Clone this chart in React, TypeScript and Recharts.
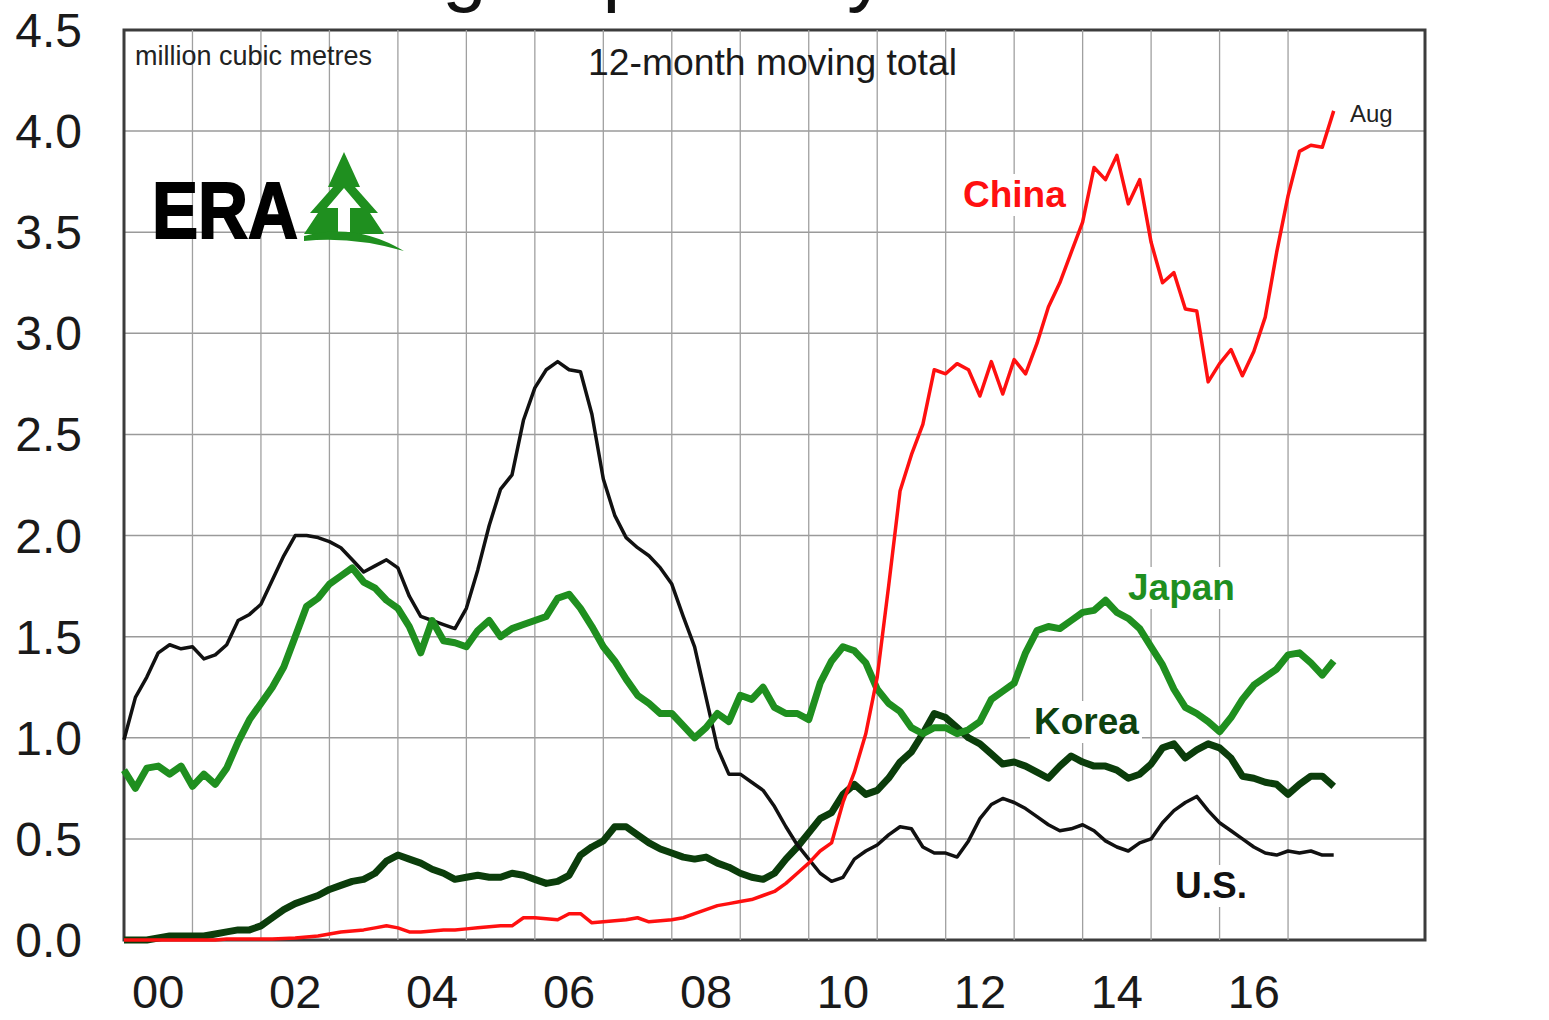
import React from 'react';
import { LineChart, Line, XAxis, YAxis, CartesianGrid, ReferenceLine, ReferenceArea } from 'recharts';

const FONT = '"Liberation Sans", Arial, Helvetica, sans-serif';

// months since Jan 2000, every second month up to Aug 2017
const months = Array.from({ length: 107 }, (_, i) => i * 2);

// 12-month moving totals, million cubic metres
const china = [
  0, 0, 0, 0, 0, 0, 0, 0, 0, 0.005,
  0.005, 0.005, 0.005, 0.005, 0.008, 0.01, 0.015, 0.02, 0.03, 0.04,
  0.045, 0.05, 0.06, 0.07, 0.06, 0.04, 0.04, 0.045, 0.05, 0.05,
  0.055, 0.06, 0.065, 0.07, 0.07, 0.11, 0.11, 0.105, 0.1, 0.13,
  0.13, 0.085, 0.09, 0.095, 0.1, 0.11, 0.09, 0.095, 0.1, 0.11,
  0.13, 0.15, 0.17, 0.18, 0.19, 0.2, 0.22, 0.24, 0.28, 0.33,
  0.38, 0.44, 0.48, 0.68, 0.83, 1.02, 1.3, 1.75, 2.22, 2.4,
  2.55, 2.82, 2.8, 2.85, 2.82, 2.69, 2.86, 2.7, 2.87, 2.8,
  2.95, 3.13, 3.25, 3.4, 3.55, 3.82, 3.76, 3.88, 3.64, 3.76,
  3.45, 3.25, 3.3, 3.12, 3.11, 2.76, 2.85, 2.92, 2.79, 2.91,
  3.08, 3.4, 3.68, 3.9, 3.93, 3.92, 4.1,
];

const japan = [
  0.84, 0.75, 0.85, 0.86, 0.82, 0.86, 0.76, 0.82, 0.77, 0.85,
  0.98, 1.09, 1.17, 1.25, 1.35, 1.5, 1.65, 1.69, 1.76, 1.8,
  1.84, 1.77, 1.74, 1.68, 1.64, 1.55, 1.42, 1.58, 1.48, 1.47,
  1.45, 1.53, 1.58, 1.5, 1.54, 1.56, 1.58, 1.6, 1.69, 1.71,
  1.64, 1.55, 1.45, 1.38, 1.29, 1.21, 1.17, 1.12, 1.12, 1.06,
  1.0, 1.05, 1.12, 1.08, 1.21, 1.19, 1.25, 1.15, 1.12, 1.12,
  1.09, 1.27, 1.38, 1.45, 1.43, 1.37, 1.24, 1.17, 1.13, 1.05,
  1.02, 1.05, 1.05, 1.02, 1.04, 1.08, 1.19, 1.23, 1.27, 1.42,
  1.53, 1.55, 1.54, 1.58, 1.62, 1.63, 1.68, 1.62, 1.59, 1.54,
  1.45, 1.36, 1.24, 1.15, 1.12, 1.08, 1.03, 1.1, 1.19, 1.26,
  1.3, 1.34, 1.41, 1.42, 1.37, 1.31, 1.38,
];

const korea = [
  0, 0, 0, 0.01, 0.02, 0.02, 0.02, 0.02, 0.03, 0.04,
  0.05, 0.05, 0.07, 0.11, 0.15, 0.18, 0.2, 0.22, 0.25, 0.27,
  0.29, 0.3, 0.33, 0.39, 0.42, 0.4, 0.38, 0.35, 0.33, 0.3,
  0.31, 0.32, 0.31, 0.31, 0.33, 0.32, 0.3, 0.28, 0.29, 0.32,
  0.42, 0.46, 0.49, 0.56, 0.56, 0.52, 0.48, 0.45, 0.43, 0.41,
  0.4, 0.41, 0.38, 0.36, 0.33, 0.31, 0.3, 0.33, 0.4, 0.46,
  0.53, 0.6, 0.63, 0.72, 0.77, 0.72, 0.74, 0.8, 0.88, 0.93,
  1.02, 1.12, 1.1, 1.05, 1.0, 0.97, 0.92, 0.87, 0.88, 0.86,
  0.83, 0.8, 0.86, 0.91, 0.88, 0.86, 0.86, 0.84, 0.8, 0.82,
  0.87, 0.95, 0.97, 0.9, 0.94, 0.97, 0.95, 0.9, 0.81, 0.8,
  0.78, 0.77, 0.72, 0.77, 0.81, 0.81, 0.76,
];

const us = [
  0.99, 1.2, 1.3, 1.42, 1.46, 1.44, 1.45, 1.39, 1.41, 1.46,
  1.58, 1.61, 1.66, 1.78, 1.9, 2.0, 2.0, 1.99, 1.97, 1.94,
  1.88, 1.82, 1.85, 1.88, 1.84, 1.7, 1.6, 1.58, 1.56, 1.54,
  1.64, 1.83, 2.05, 2.23, 2.3, 2.57, 2.73, 2.82, 2.86, 2.82,
  2.81, 2.6, 2.28, 2.1, 1.99, 1.94, 1.9, 1.84, 1.76, 1.6,
  1.45, 1.2, 0.95, 0.82, 0.82, 0.78, 0.74, 0.66, 0.56, 0.47,
  0.4, 0.33, 0.29, 0.31, 0.4, 0.44, 0.47, 0.52, 0.56, 0.55,
  0.46, 0.43, 0.43, 0.41, 0.49, 0.6, 0.67, 0.7, 0.68, 0.65,
  0.61, 0.57, 0.54, 0.55, 0.57, 0.54, 0.49, 0.46, 0.44, 0.48,
  0.5, 0.58, 0.64, 0.68, 0.71, 0.64, 0.58, 0.54, 0.5, 0.46,
  0.43, 0.42, 0.44, 0.43, 0.44, 0.42, 0.42,
];

const yearLabels = ['00', '02', '04', '06', '08', '10', '12', '14', '16'];
const valueTicks = [0, 0.5, 1, 1.5, 2, 2.5, 3, 3.5, 4, 4.5];

const chartData = months.map((m, i) => ({
  month: m,
  china: china[i],
  japan: japan[i],
  korea: korea[i],
  us: us[i],
}));

// labels sit mid-year, grid lines on each January
const yearTicks = yearLabels.map((_, i) => 6 + i * 24);
const yearBounds = Array.from({ length: 17 }, (_, i) => (i + 1) * 12);

const tickStyle = { fill: '#1a1a1a', fontSize: 48, fontFamily: FONT };
const xTickStyle = { fill: '#1a1a1a', fontSize: 47, fontFamily: FONT };

function SeriesTag({ x, y, w, text, color }: { x: number; y: number; w: number; text: string; color: string }) {
  return (
    <g>
      <rect x={x - 4} y={y - 33} width={w + 8} height={42} fill="#fff" />
      <text x={x} y={y} fontSize={37} fontWeight={700} fontFamily={FONT} fill={color}>
        {text}
      </text>
    </g>
  );
}

function Overlay() {
  return (
    <svg width={1549} height={1020} style={{ position: 'absolute', left: 0, top: 0, pointerEvents: 'none' }}>
      <text x={220} y={-4} fontSize={80} fontFamily={FONT} fill="#111">
        BC Log Exports by Destination
      </text>
      <text x={135} y={65} fontSize={28} fontFamily={FONT} fill="#222" textLength={237} lengthAdjust="spacingAndGlyphs">
        million cubic metres
      </text>
      <text x={588} y={75} fontSize={37} fontFamily={FONT} fill="#1a1a1a" textLength={369} lengthAdjust="spacingAndGlyphs">
        12-month moving total
      </text>

      {/* ERA logo */}
      <text x={152} y={238} fontSize={80} fontWeight={700} fontFamily={FONT} fill="#000" stroke="#000" strokeWidth={2}
        textLength={146} lengthAdjust="spacingAndGlyphs">
        ERA
      </text>
      <polygon
        points="344,152 360,187 355,187 378,213 370,213 384,234 304,234 318,213 310,213 333,187 328,187"
        fill="#1f8f1f"
      />
      <polygon points="344,188 361,208 350,208 350,232 338,232 338,208 327,208" fill="#fff" />
      <path d="M 304 236 Q 356 222 404 251 Q 352 236 304 241 Z" fill="#1f8f1f" />

      <SeriesTag x={963} y={207} w={100} text="China" color="#ff1010" />
      <SeriesTag x={1128} y={600} w={107} text="Japan" color="#1f8f1f" />
      <SeriesTag x={1034} y={734} w={104} text="Korea" color="#0e420e" />
      <SeriesTag x={1175} y={898} w={72} text="U.S." color="#111" />
      <text x={1350} y={122} fontSize={24} fontFamily={FONT} fill="#222">
        Aug
      </text>
    </svg>
  );
}

export default function App() {
  return (
    <div style={{ position: 'absolute', left: 0, top: 0, width: 1549, height: 1020, background: '#fff', overflow: 'hidden' }}>
      <LineChart width={1549} height={1020} data={chartData} margin={{ top: 30, right: 0, bottom: 0, left: 0 }}>
        <CartesianGrid vertical={false} stroke="#9a9a9a" strokeWidth={1.5} />
        {yearBounds.map((m) => (
          <ReferenceLine key={m} x={m} stroke="#a0a0a0" strokeWidth={1.3} />
        ))}
        <ReferenceArea x1={0} x2={228} y1={0} y2={4.5} fill="none" stroke="#3c3c3c" strokeWidth={3} />
        <XAxis
          dataKey="month"
          type="number"
          domain={[0, 228]}
          ticks={yearTicks}
          tickFormatter={(v: number) => yearLabels[(v - 6) / 24]}
          axisLine={false}
          tickLine={false}
          tickSize={0}
          tickMargin={35}
          height={80}
          tick={xTickStyle}
          interval={0}
        />
        <YAxis
          domain={[0, 4.5]}
          ticks={valueTicks}
          tickFormatter={(v: number) => v.toFixed(1)}
          axisLine={false}
          tickLine={false}
          tickSize={0}
          tickMargin={42}
          width={124}
          tick={tickStyle}
          interval={0}
        />
        <YAxis
          yAxisId="right"
          orientation="right"
          domain={[0, 4.5]}
          ticks={valueTicks}
          tickFormatter={(v: number) => v.toFixed(1)}
          axisLine={false}
          tickLine={false}
          tickSize={0}
          tickMargin={45}
          width={124}
          tick={tickStyle}
          interval={0}
        />
        <Line type="linear" dataKey="korea" stroke="#0b3d0b" strokeWidth={7} dot={false} strokeLinejoin="round" isAnimationActive={false} />
        <Line type="linear" dataKey="us" stroke="#111" strokeWidth={3.5} dot={false} strokeLinejoin="round" isAnimationActive={false} />
        <Line type="linear" dataKey="japan" stroke="#1f8f1f" strokeWidth={7} dot={false} strokeLinejoin="round" isAnimationActive={false} />
        <Line type="linear" dataKey="china" stroke="#ff1010" strokeWidth={3.5} dot={false} strokeLinejoin="round" isAnimationActive={false} />
      </LineChart>
      <Overlay />
    </div>
  );
}
